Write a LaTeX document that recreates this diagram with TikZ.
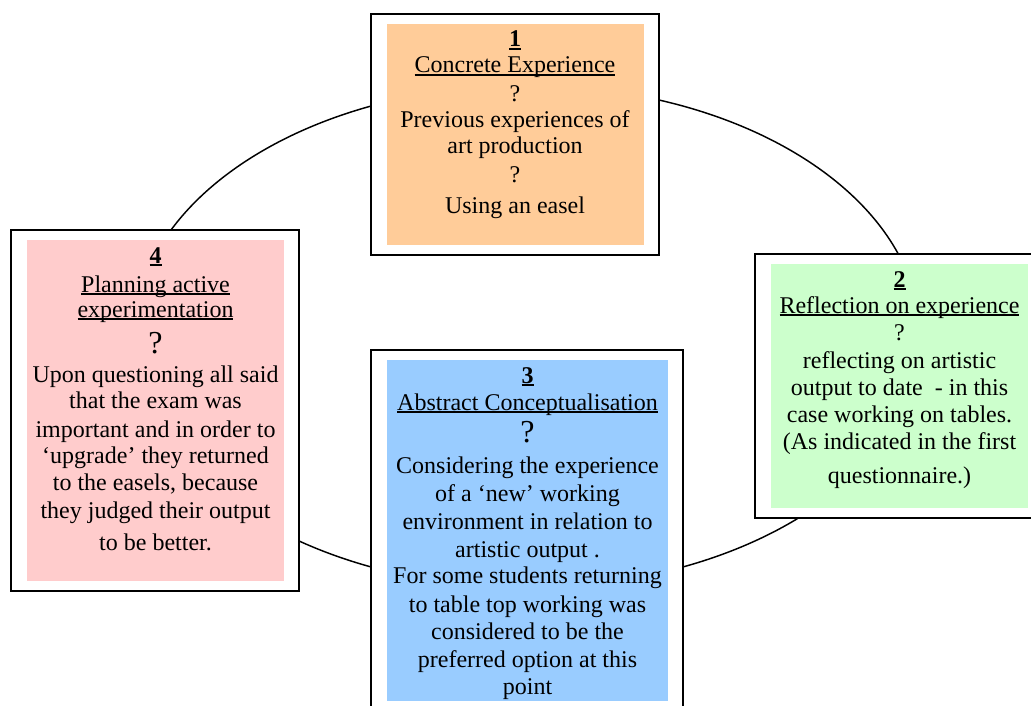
\documentclass[tikz,border=0pt]{standalone}
\usepackage{fontspec}
\setmainfont{Liberation Serif}
% underline set close to the baseline, crossing descenders
\newcommand\ulin[1]{\leavevmode\setbox0\hbox{#1}\rlap{\rule[-2.2pt]{\wd0}{1.1pt}}\box0}
\begin{document}
\begin{tikzpicture}[x=0.75pt,y=-0.75pt,
  frame/.style={draw=black,line width=1.5pt,fill=white},
  cycleline/.style={draw=black,line width=1.1pt},
  txt/.style={anchor=base,inner sep=0pt,font=\fontsize{18}{20}\selectfont},
  bigq/.style={anchor=base,inner sep=0pt,font=\fontsize{24}{24}\selectfont}]
\definecolor{ceOrange}{HTML}{FFCC99}
\definecolor{roGreen}{HTML}{CCFFCC}
\definecolor{acBlue}{HTML}{99CCFF}
\definecolor{paPink}{HTML}{FFCCCC}
\useasboundingbox (0,0) rectangle (1031,706);

% the learning cycle
\draw[cycleline] (527,336.5) ellipse [x radius=294.75pt, y radius=188.25pt];

% stage frames and coloured panels
\draw[frame] (371,14) rectangle (659,255);
\fill[ceOrange] (387,24) rectangle (644,245);
\draw[frame] (755,254) rectangle (1045,518);
\fill[roGreen] (771,264) rectangle (1028,508);
\draw[frame] (371,350) rectangle (683,712);
\fill[acBlue] (387,360) rectangle (668,701);
\draw[frame] (11,230) rectangle (299,591);
\fill[paPink] (27,240) rectangle (284,581);

% 1 Concrete Experience
\foreach \y/\t [count=\i] in {
  47/{\ulin{\textbf{1}}},
  73/{\ulin{Concrete Experience}},
  102/{?},
  128/{Previous experiences of},
  154/{art production},
  183/{?},
  214/{Using an easel}}
  \node[txt] (ce\i) at (515,\y) {\t};

% 2 Reflection on experience
\foreach \y/\t [count=\i] in {
  287/{\ulin{\textbf{2}}},
  313/{\ulin{Reflection on experience}},
  340/{?},
  368/{reflecting on artistic},
  395/{output to date~ - in this},
  422/{case working on tables.},
  449/{(As indicated in the first},
  483/{questionnaire.)}}
  \node[txt] (ro\i) at (899.5,\y) {\t};

% 3 Abstract Conceptualisation
\foreach \y/\t [count=\i] in {
  383/{\ulin{\textbf{3}}},
  410/{\ulin{Abstract Conceptualisation}},
  473/{Considering the experience},
  501/{of a ‘new’ working},
  529/{environment in relation to},
  557/{artistic output .},
  583/{For some students returning},
  612/{to table top working was},
  639/{considered to be the},
  667/{preferred option at this},
  694/{point}}
  \node[txt] (ac\i) at (527.5,\y) {\t};
\node[bigq] (acq) at (527.5,442) {?};

% 4 Planning active experimentation
\foreach \y/\t [count=\i] in {
  263/{\ulin{\textbf{4}}},
  292/{\ulin{Planning active}},
  317/{\ulin{experimentation}},
  382/{Upon questioning all said},
  408/{that the exam was},
  437/{important and in order to},
  463/{‘upgrade’ they returned},
  490/{to the easels, because},
  518/{they judged their output},
  550/{to be better.}}
  \node[txt] (pa\i) at (155.5,\y) {\t};
\node[bigq] (paq) at (155.5,353) {?};
\end{tikzpicture}
\end{document}
